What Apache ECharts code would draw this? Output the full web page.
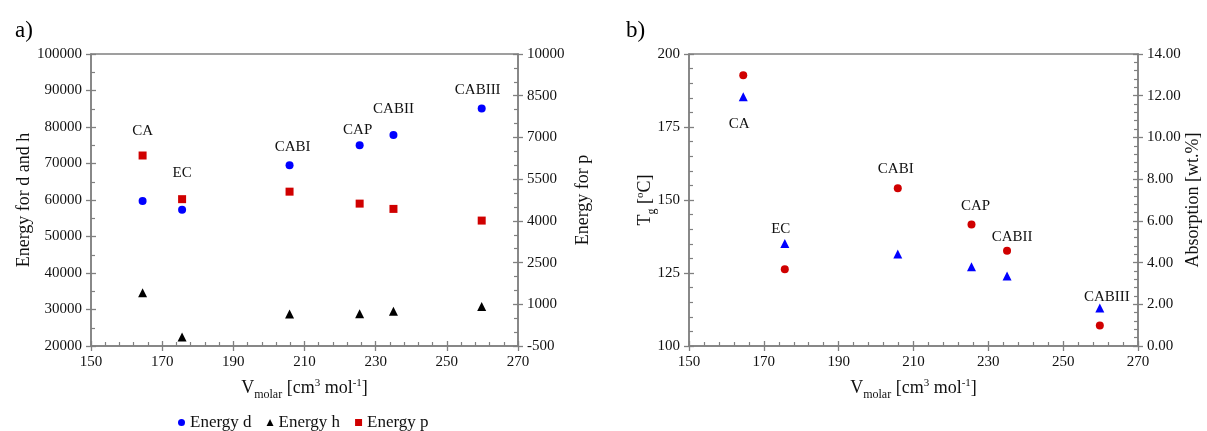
<!DOCTYPE html>
<html>
<head>
<meta charset="utf-8">
<script src="https://cdn.jsdelivr.net/npm/echarts@6/dist/echarts.min.js"></script>
<style>
html,body{margin:0;padding:0;background:#fff;}
#c{width:1207px;height:431px;}
</style>
</head>
<body>
<div id="c"></div>
<script>
// ---- data ----
const sampleNames = ['CA', 'EC', 'CABI', 'CAP', 'CABII', 'CABIII'];
const vMolar = [164.5, 175.6, 205.8, 225.5, 235.0, 259.8];
const energyD = [59700, 57300, 69500, 75000, 77800, 85100];
const energyH = [34600, 22500, 28800, 28850, 29500, 30800];
const energyP = [6350, 4780, 5050, 4620, 4430, 4010];
const tg = [192.7, 126.3, 154.0, 141.6, 132.6, 107.0];
const absorption = [11.95, 4.92, 4.41, 3.80, 3.36, 1.82];
const xTicks = [150, 170, 190, 210, 230, 250, 270];
const legendNames = ['Energy d', 'Energy h', 'Energy p'];

// ---- style ----
const FONT = 'Liberation Serif';
const AX = '#808080';
const TXT = '#111111';
const BLUE = '#0000ff', RED = '#d00000', BLACK = '#000000';

const chart = echarts.init(document.getElementById('c'));

const nameRich = {
  n: {fontFamily: FONT, fontSize: 18, color: TXT, lineHeight: 26, verticalAlign: 'middle'},
  sub: {fontFamily: FONT, fontSize: 12, color: TXT, lineHeight: 26, verticalAlign: 'bottom'},
  sup: {fontFamily: FONT, fontSize: 11, color: TXT, lineHeight: 26, verticalAlign: 'top', padding: [3, 0, 0, 0]}
};

function mainAxis(o) {
  return {
    type: 'value', gridIndex: o.grid, position: o.position,
    min: o.min, max: o.max, interval: o.interval,
    axisLine: {show: true, onZero: false, lineStyle: {color: AX, width: 1.5}},
    axisTick: {show: true, inside: true, length: 5, lineStyle: {color: AX, width: 1.3}},
    minorTick: {show: true, splitNumber: o.minor, length: 4, lineStyle: {color: AX, width: 1.2}},
    splitLine: {show: false}, minorSplitLine: {show: false},
    axisLabel: {show: true, margin: 9, fontFamily: FONT, fontSize: 15, color: TXT,
      formatter: o.fmt || (v => String(v))},
    name: o.name, nameLocation: 'middle', nameGap: o.nameGap, nameRotate: o.nameRotate,
    nameMoveOverlap: o.noMove ? false : true,
    nameTextStyle: {fontFamily: FONT, fontSize: 18, color: TXT, rich: nameRich}
  };
}
function outerAxis(o) {
  return {
    type: 'value', gridIndex: o.grid, position: o.position,
    min: o.min, max: o.max, interval: o.interval,
    axisLine: {show: false, onZero: false},
    axisTick: {show: true, inside: false, length: 5, lineStyle: {color: AX, width: 1.3}},
    axisLabel: {show: false}, splitLine: {show: false}
  };
}

const xName = '{n|V}{sub|molar}{n| [cm}{sup|3}{n| mol}{sup|-1}{n|]}';
const xMin = xTicks[0], xMax = xTicks[xTicks.length - 1], xInt = xTicks[1] - xTicks[0];

const xAxes = [
  mainAxis({grid: 0, position: 'bottom', min: xMin, max: xMax, interval: xInt, minor: 5, name: xName, nameGap: 28}),
  outerAxis({grid: 0, position: 'bottom', min: xMin, max: xMax, interval: xInt}),
  mainAxis({grid: 1, position: 'bottom', min: xMin, max: xMax, interval: xInt, minor: 5, name: xName, nameGap: 28}),
  outerAxis({grid: 1, position: 'bottom', min: xMin, max: xMax, interval: xInt})
];
const yAxes = [
  mainAxis({grid: 0, position: 'left', min: 20000, max: 100000, interval: 10000, minor: 2,
    name: '{n|Energy for d and h}', nameGap: 52, nameRotate: 90}),
  mainAxis({grid: 0, position: 'right', min: -500, max: 10000, interval: 1500, minor: 3,
    name: '{n|Energy for p}', nameGap: 52, nameRotate: 90}),
  outerAxis({grid: 0, position: 'left', min: 20000, max: 100000, interval: 10000}),
  outerAxis({grid: 0, position: 'right', min: -500, max: 10000, interval: 1500}),
  mainAxis({grid: 1, position: 'left', min: 100, max: 200, interval: 25, minor: 5,
    name: '{n|T}{sub|g}{n| [}{sup|o}{n|C]}', nameGap: 31, nameRotate: 90, noMove: true}),
  mainAxis({grid: 1, position: 'right', min: 0, max: 14, interval: 2, minor: 5,
    name: '{n|Absorption [wt.%]}', nameGap: 36, nameRotate: 90, fmt: v => v.toFixed(2)}),
  outerAxis({grid: 1, position: 'left', min: 100, max: 200, interval: 25}),
  outerAxis({grid: 1, position: 'right', min: 0, max: 14, interval: 2})
];

// label placement (style): which series carries each label and its pixel offset
const labelStyleA = [
  {on: 'p', off: [0, -24]}, {on: 'p', off: [0, -26]}, {on: 'd', off: [3, -18]},
  {on: 'd', off: [-2, -15]}, {on: 'd', off: [0, -26]}, {on: 'd', off: [-4, -18]}
];
const labelStyleB = [
  {on: 'abs', off: [-4, 27]}, {on: 'abs', off: [-4, -14]}, {on: 'tg', off: [-2, -19]},
  {on: 'tg', off: [4, -18]}, {on: 'tg', off: [5, -14]}, {on: 'abs', off: [7, -11]}
];
const ptLabel = off => ({show: true, position: 'inside', offset: off, fontFamily: FONT,
  fontSize: 15, color: TXT});

function buildData(values, key, styles) {
  return values.map((v, i) => {
    const item = {value: [vMolar[i], v]};
    if (styles[i].on === key) item.label = Object.assign(ptLabel(styles[i].off), {formatter: sampleNames[i]});
    return item;
  });
}

const series = [
  {name: legendNames[0], type: 'scatter', xAxisIndex: 0, yAxisIndex: 0, symbol: 'circle', symbolSize: 8,
    itemStyle: {color: BLUE, opacity: 1}, data: buildData(energyD, 'd', labelStyleA), z: 3},
  {name: legendNames[1], type: 'scatter', xAxisIndex: 0, yAxisIndex: 0, symbol: 'triangle', symbolSize: 9,
    itemStyle: {color: BLACK, opacity: 1}, data: buildData(energyH, 'h', labelStyleA), z: 3},
  {name: legendNames[2], type: 'scatter', xAxisIndex: 0, yAxisIndex: 1, symbol: 'rect', symbolSize: 8,
    itemStyle: {color: RED, opacity: 1}, data: buildData(energyP, 'p', labelStyleA), z: 3},
  {name: 'Tg', type: 'scatter', xAxisIndex: 2, yAxisIndex: 4, symbol: 'circle', symbolSize: 8,
    itemStyle: {color: RED, opacity: 1}, data: buildData(tg, 'tg', labelStyleB), z: 3},
  {name: 'Absorption', type: 'scatter', xAxisIndex: 2, yAxisIndex: 5, symbol: 'triangle', symbolSize: 9,
    itemStyle: {color: BLUE, opacity: 1}, data: buildData(absorption, 'abs', labelStyleB), z: 3}
];

chart.setOption({
  animation: false,
  backgroundColor: '#ffffff',
  title: [
    {text: 'a)', left: 10, top: 14, textStyle: {fontFamily: FONT, fontSize: 23, fontWeight: 'normal', color: '#000'}},
    {text: 'b)', left: 621, top: 14, textStyle: {fontFamily: FONT, fontSize: 23, fontWeight: 'normal', color: '#000'}}
  ],
  grid: [
    {left: 91, top: 54, width: 427, height: 292, show: true, borderColor: AX, borderWidth: 1.5, backgroundColor: 'transparent'},
    {left: 689, top: 54, width: 449, height: 292, show: true, borderColor: AX, borderWidth: 1.5, backgroundColor: 'transparent'}
  ],
  legend: {
    data: legendNames, left: 173, top: 409, itemWidth: 7, itemHeight: 7, itemGap: 15,
    textStyle: {fontFamily: FONT, fontSize: 17, color: TXT}
  },
  xAxis: xAxes,
  yAxis: yAxes,
  series: series
});
</script>
</body>
</html>
